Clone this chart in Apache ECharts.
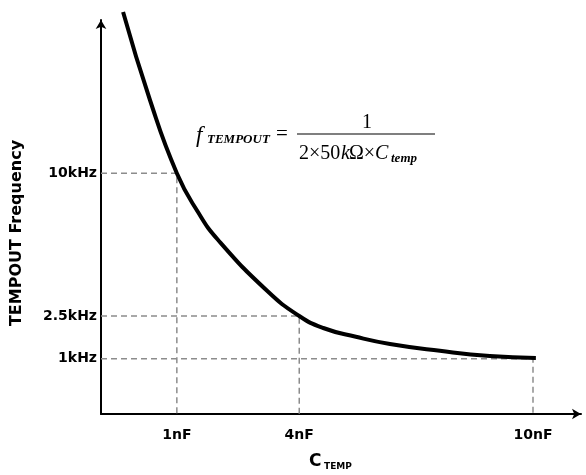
<!DOCTYPE html>
<html>
<head>
<meta charset="UTF-8">
<title>TEMPOUT Frequency</title>
<style>
    html,body{margin:0;padding:0;background:#fff;}
    #chart{width:586px;height:475px;}
</style>
</head>
<body>
<div id="chart"></div>
<script src="https://cdn.jsdelivr.net/npm/echarts@6/dist/echarts.min.js"></script>
<script>
    // schematic units: x 0..100 along C axis, y 0..98.5 along frequency axis
    const capLabels = ['1nF', '4nF', '10nF'];
    const capPos = [15.8, 41.3, 90.0];
    const freqLabels = ['10kHz', '2.5kHz', '1kHz'];
    const freqPos = [60.2, 24.5, 13.8];

    const curveX = [4.6, 10.2, 15.8, 20.2, 24.4, 34.6, 41.3, 46.3, 53.1, 60.2, 70.6, 81.0, 90.6];
    const curveY = [100.5, 78.5, 60.2, 50.5, 43.5, 30.8, 24.5, 21.5, 19.3, 17.5, 15.8, 14.5, 14.0];

    let chart = echarts.init(document.getElementById('chart'));

    let guides = [];
    for (let i = 0; i < capPos.length; i++) {
        guides.push({
            type: 'line',
            data: [[0, freqPos[i]], [capPos[i], freqPos[i]], [capPos[i], 0]],
            symbol: 'none',
            silent: true,
            lineStyle: {color: '#8c8c8c', width: 1.5, type: [6, 4]},
            z: 1
        });
    }

    let curve = [];
    for (let i = 0; i < curveX.length; i++) curve.push([curveX[i], curveY[i]]);

    let tickFont = {color: '#000', fontFamily: 'DejaVu Sans', fontWeight: 'bold', fontSize: 14};

    let option = {
        animation: false,
        grid: {left: 101, right: 5, top: 20, bottom: 61},
        xAxis: {
            type: 'value', min: 0, max: 100,
            axisLine: {lineStyle: {color: '#000', width: 2}, symbol: ['none', 'arrow'], symbolSize: [8, 9]},
            axisTick: {show: false},
            splitLine: {show: false},
            axisLabel: Object.assign({
                customValues: capPos,
                margin: 14,
                formatter: function (v) { return capLabels[capPos.indexOf(v)] || ''; }
            }, tickFont)
        },
        yAxis: {
            type: 'value', min: 0, max: 98.5,
            axisLine: {lineStyle: {color: '#000', width: 2}, symbol: ['none', 'arrow'], symbolSize: [8, 9]},
            axisTick: {show: false},
            splitLine: {show: false},
            axisLabel: Object.assign({
                customValues: freqPos,
                margin: 4,
                formatter: function (v) { return freqLabels[freqPos.indexOf(v)] || ''; }
            }, tickFont)
        },
        series: guides.concat([{
            type: 'line',
            data: curve,
            symbol: 'none',
            smooth: 0.5,
            clip: false,
            lineStyle: {color: '#000', width: 4, cap: 'butt'},
            z: 5
        }]),
        graphic: [
            {type: 'text', x: 17, y: 233, rotation: Math.PI / 2,
                style: {text: 'TEMPOUT Frequency', fill: '#000', font: 'bold 16px "DejaVu Sans"', textAlign: 'center', textVerticalAlign: 'middle'}},
            {type: 'text', x: 309, y: 462,
                style: {text: 'C', fill: '#000', font: 'bold 17px "DejaVu Sans"', textAlign: 'left', textVerticalAlign: 'middle'}},
            {type: 'text', x: 324, y: 467,
                style: {text: 'TEMP', fill: '#000', font: 'bold 9px "DejaVu Sans"', textAlign: 'left', textVerticalAlign: 'middle'}},
            // formula
            {type: 'text', x: 196, y: 136,
                style: {text: 'f', fill: '#000', font: 'italic 23px "Liberation Serif"', textAlign: 'left', textVerticalAlign: 'middle'}},
            {type: 'text', x: 207, y: 140,
                style: {text: 'TEMPOUT', fill: '#000', font: 'italic bold 13px "Liberation Serif"', textAlign: 'left', textVerticalAlign: 'middle'}},
            {type: 'text', x: 276, y: 134,
                style: {text: '=', fill: '#000', font: '21px "Liberation Serif"', textAlign: 'left', textVerticalAlign: 'middle'}},
            {type: 'line', shape: {x1: 297, y1: 134, x2: 435, y2: 134}, style: {stroke: '#000', lineWidth: 1.2}},
            {type: 'text', x: 367, y: 123,
                style: {text: '1', fill: '#000', font: '20px "Liberation Serif"', textAlign: 'center', textVerticalAlign: 'middle'}},
            {type: 'text', x: 299, y: 154,
                style: {text: '2\u00d750', fill: '#000', font: '20px "Liberation Serif"', textAlign: 'left', textVerticalAlign: 'middle'}},
            {type: 'text', x: 341, y: 154,
                style: {text: 'k', fill: '#000', font: 'italic 20px "Liberation Serif"', textAlign: 'left', textVerticalAlign: 'middle'}},
            {type: 'text', x: 349, y: 154,
                style: {text: '\u03a9\u00d7', fill: '#000', font: '20px "Liberation Serif"', textAlign: 'left', textVerticalAlign: 'middle'}},
            {type: 'text', x: 375, y: 154,
                style: {text: 'C', fill: '#000', font: 'italic 20px "Liberation Serif"', textAlign: 'left', textVerticalAlign: 'middle'}},
            {type: 'text', x: 391, y: 159,
                style: {text: 'temp', fill: '#000', font: 'italic bold 13px "Liberation Serif"', textAlign: 'left', textVerticalAlign: 'middle'}}
        ]
    };

    chart.setOption(option);
</script>
</body>
</html>
